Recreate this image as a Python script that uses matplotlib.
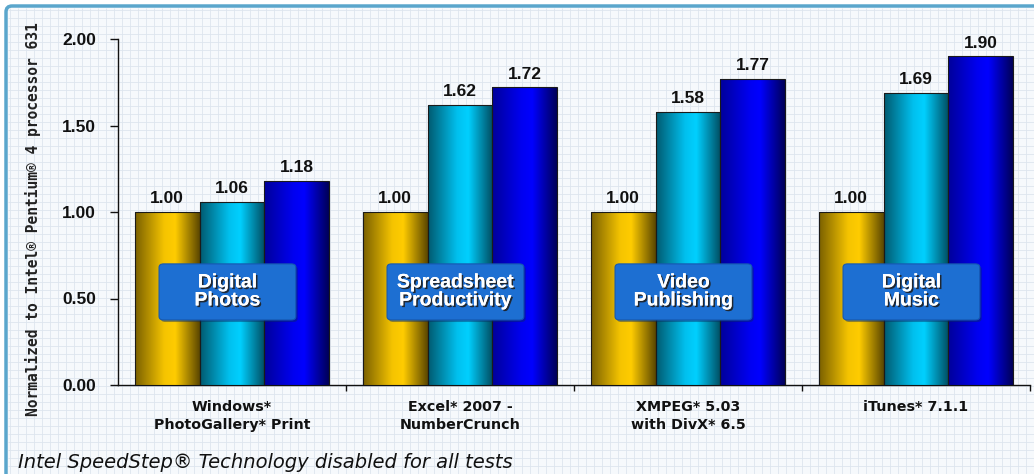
import numpy as np
import matplotlib
matplotlib.use("Agg")
import matplotlib.pyplot as plt
from matplotlib.patches import FancyBboxPatch
from matplotlib.colors import LinearSegmentedColormap
import matplotlib.patheffects as pe

# ---------------- data ----------------
categories = ["Windows*\nPhotoGallery* Print",
              "Excel* 2007 -\nNumberCrunch",
              "XMPEG* 5.03\nwith DivX* 6.5",
              "iTunes* 7.1.1"]
box_labels = ["Digital\nPhotos", "Spreadsheet\nProductivity",
              "Video\nPublishing", "Digital\nMusic"]
series_a = [1.00, 1.00, 1.00, 1.00]   # yellow
series_b = [1.06, 1.62, 1.58, 1.69]   # cyan
series_c = [1.18, 1.72, 1.77, 1.90]   # blue
series = [series_a, series_b, series_c]
yticks = [0.0, 0.5, 1.0, 1.5, 2.0]
ylabel = "Normalized to Intel\u00ae Pentium\u00ae 4 processor 631"
footnote = "Intel SpeedStep\u00ae Technology disabled for all tests"

# gradient colours (left edge, bright, bright, right edge)
grad_colors = [
    ["#7a6000", "#f5c400", "#ffcc00", "#5a4600"],
    ["#005a70", "#00c0ee", "#00d0ff", "#004c60"],
    ["#00009a", "#0000f0", "#0000ff", "#000058"],
]

W, H = 1034, 474
fig = plt.figure(figsize=(W / 100, H / 100), dpi=100)
fig.patch.set_facecolor("white")

# ---------------- background with fine grid and frame ----------------
bg = fig.add_axes([0, 0, 1, 1])
bg.set_xlim(0, W)
bg.set_ylim(H, 0)
bg.axis("off")
frame = FancyBboxPatch((6, 6), W + 300, H + 300,
                       boxstyle="round,pad=0,rounding_size=6",
                       facecolor="#f6f9fc", edgecolor="#5aa6cc", lw=2.5)
bg.add_patch(frame)
gx = np.arange(10, W + 8, 8)
gy = np.arange(10, H + 8, 8)
bg.vlines(gx, 8, H + 5, colors="#dde5ee", lw=0.6, zorder=1)
bg.hlines(gy, 8, W + 5, colors="#dde5ee", lw=0.6, zorder=1)

# ---------------- main axes ----------------
ax = fig.add_axes([118 / W, 1 - 385 / H, 912 / W, 346 / H])
ax.patch.set_alpha(0)
x = np.arange(len(categories))
bw = 0.285
offsets = [-bw, 0.0, bw]

for si, vals in enumerate(series):
    cmap = LinearSegmentedColormap.from_list(
        "g%d" % si, list(zip([0.0, 0.45, 0.62, 1.0], grad_colors[si])))
    bars = ax.bar(x + offsets[si], vals, width=bw, facecolor="none",
                  edgecolor="#1a1a1a", lw=0.8, zorder=4)
    grad = np.linspace(0, 1, 256).reshape(1, -1)
    for b, v in zip(bars, vals):
        x0 = b.get_x()
        im = ax.imshow(grad, cmap=cmap, extent=[x0, x0 + bw, 0, v],
                       aspect="auto", zorder=3, interpolation="bilinear")
        im.set_clip_path(b)
        ax.annotate("%.2f" % v, (x0 + bw / 2, v), xytext=(0, 4),
                    textcoords="offset points", ha="center", va="bottom",
                    fontsize=12.5, fontweight="bold", family="Liberation Sans",
                    color="#111111", zorder=6)

# category boxes
bx_w = 0.6
for i, lab in enumerate(box_labels):
    cx = x[i] - 0.02
    shadow = FancyBboxPatch((cx - bx_w / 2 + 0.008, 0.376 - 0.012), bx_w, 0.324,
                            boxstyle="round,pad=0,rounding_size=0.02",
                            facecolor="#0a2a60", edgecolor="none", alpha=0.45,
                            zorder=6)
    ax.add_patch(shadow)
    box = FancyBboxPatch((cx - bx_w / 2, 0.376), bx_w, 0.324,
                         boxstyle="round,pad=0,rounding_size=0.02",
                         facecolor="#1d6fd2", edgecolor="#1658b0", lw=0.8,
                         zorder=7)
    ax.add_patch(box)
    ax.text(cx, 0.538, lab, ha="center", va="center", color="white",
            fontsize=14, fontweight="bold", family="Liberation Sans",
            linespacing=1.08, zorder=8,
            path_effects=[pe.withSimplePatchShadow(offset=(1.2, -1.2),
                                                   shadow_rgbFace="#202020",
                                                   alpha=0.9), pe.Normal()])

ax.set_xlim(-0.5, len(categories) - 0.5)
ax.set_ylim(0, 2.0)
ax.set_yticks(yticks)
ax.set_yticklabels(["%.2f" % t for t in yticks], fontsize=12.5,
                   fontweight="bold", family="Liberation Sans", color="#111111")
ax.set_xticks(x)
ax.set_xticklabels(categories, fontsize=10.3, fontweight="bold",
                   family="DejaVu Sans", color="#111111", linespacing=1.35,
                   va="top")
ax.set_xticks(np.arange(len(categories)) + 0.5, minor=True)
ax.tick_params(axis="x", which="major", length=0, pad=11)
ax.tick_params(axis="x", which="minor", length=4, width=1, direction="out",
               color="#111111")
ax.tick_params(axis="y", length=6, width=1, direction="out", pad=10,
               color="#111111")
for s in ["top", "right"]:
    ax.spines[s].set_visible(False)
for s in ["left", "bottom"]:
    ax.spines[s].set_color("#111111")
    ax.spines[s].set_linewidth(1.0)

fig.text(33 / W, 1 - 219 / H, ylabel, rotation=90, ha="center", va="center",
         fontsize=10.5, fontweight="bold", family="DejaVu Sans Mono",
         color="#222222")
fig.text(18 / W, 1 - 462 / H, footnote, ha="left", va="center",
         fontsize=14, style="italic", family="DejaVu Sans", color="#111111")

fig.savefig("out.png", dpi=100)
